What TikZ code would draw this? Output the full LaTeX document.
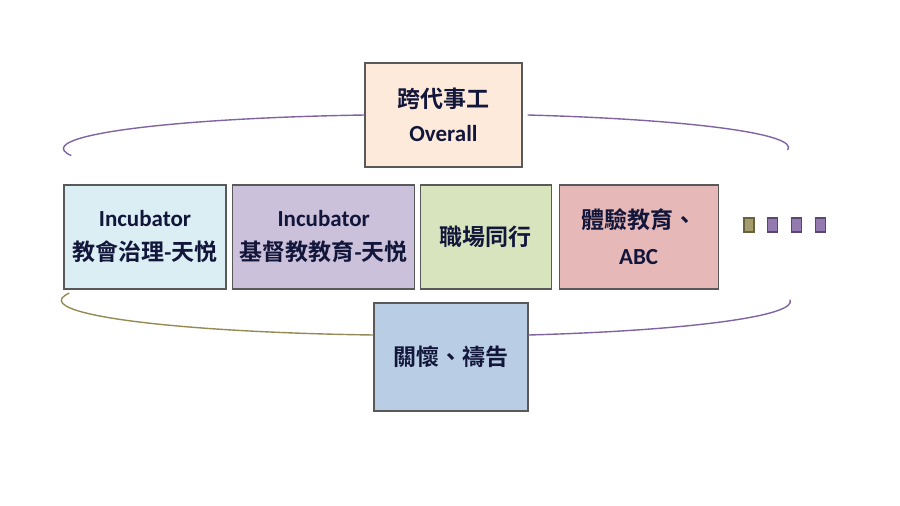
\documentclass[tikz,border=0pt]{standalone}
\usepackage{fontspec}
\setmainfont{Carlito}
\newfontfamily\cjkfont{Noto Sans CJK TC}[BoldFont={Noto Sans CJK TC Bold}]
\newcommand{\zh}[1]{{\cjkfont #1}}
\usepackage{tikz}
\usetikzlibrary{positioning}
\definecolor{navytext}{RGB}{18,22,58}
\definecolor{boxline}{RGB}{89,89,89}
\definecolor{arcpurple}{RGB}{128,100,162}
\definecolor{arcolive}{RGB}{148,138,84}
\definecolor{peach}{RGB}{253,234,218}
\definecolor{paleblue}{RGB}{219,238,244}
\definecolor{lilac}{RGB}{204,193,218}
\definecolor{palegreen}{RGB}{215,228,189}
\definecolor{rose}{RGB}{230,185,184}
\definecolor{steelblue}{RGB}{185,205,229}
\tikzset{
    % 方框样式
    catbox/.style={
        draw=boxline,
        line width=1.2pt,
        minimum height=104pt,
        inner sep=2pt,
        align=center,
        text=navytext,
        font=\bfseries\fontsize{23}{34}\selectfont
    },
    purplearc/.style={line width=1.4pt, arcpurple},
    olivearc/.style={line width=1.4pt, arcolive},
    dotbox/.style={minimum width=10pt, minimum height=14pt, inner sep=0pt, line width=1.2pt}
}

\begin{document}
\begin{tikzpicture}[x=1pt,y=1pt]
\useasboundingbox (0,0) rectangle (900,-506);

% ===================== 中间一排 =====================
\node[catbox, fill=paleblue, minimum width=162pt] (incA) at (145,-237) {Incubator\\\zh{教會治理}-\zh{天悦}};
\node[catbox, fill=lilac, minimum width=182pt, right=5.5pt of incA] (incB) {Incubator\\\zh{基督教教育}-\zh{天悦}};
\node[catbox, fill=palegreen, minimum width=131pt, right=4.5pt of incB] (work) {\zh{職場同行}};
\node[catbox, fill=rose, minimum width=159pt, right=6.5pt of work] (expr) {\zh{體驗教育、}\\[2pt]ABC};

% 小方块
\node[dotbox, draw=arcolive!70!black, fill=arcolive!85!white] (d1) at (749,-225) {};
\node[dotbox, draw=arcpurple!70!black, fill=arcpurple!85!white, right=12.5pt of d1] (d2) {};
\node[dotbox, draw=arcpurple!70!black, fill=arcpurple!85!white, right=12.5pt of d2] (d3) {};
\node[dotbox, draw=arcpurple!70!black, fill=arcpurple!85!white, right=12.5pt of d3] (d4) {};

% ===================== 上下两个 =====================
\node[catbox, fill=peach, minimum width=157pt] (overall) at (443.5,-115) {\zh{跨代事工}\\Overall};
\node[catbox, fill=steelblue, minimum width=154pt, minimum height=108pt] (care) at (451,-357) {\zh{關懷、禱告}};

% 上弧
\draw[purplearc] (overall.west) arc[start angle=99.7, end angle=192, x radius=362, y radius=34];
\draw[purplearc] ([xshift=5pt]overall.east) arc[start angle=73.8, end angle=-4, x radius=362, y radius=34];

% 下弧
\draw[olivearc] ([yshift=22pt]care.west) arc[start angle=-98.2, end angle=-192, x radius=364, y radius=35];
\draw[purplearc] ([yshift=22pt]care.east) arc[start angle=-73.7, end angle=3, x radius=364, y radius=35];

\end{tikzpicture}
\end{document}
